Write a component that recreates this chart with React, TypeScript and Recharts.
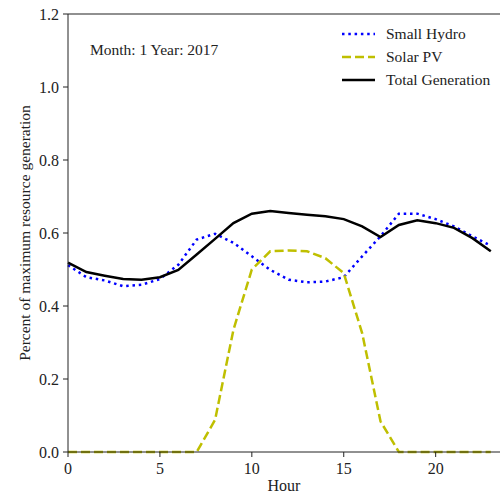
import {Label, Line, LineChart, ReferenceLine, XAxis, YAxis} from 'recharts';

const hours = [
  0, 1, 2, 3, 4, 5, 6, 7, 8, 9, 10, 11, 12, 13, 14, 15, 16, 17, 18, 19, 20, 21, 22, 23,
];
const smallHydro = [
  0.512, 0.479, 0.47, 0.454, 0.458, 0.474, 0.513, 0.582, 0.598, 0.573, 0.536, 0.499,
  0.472, 0.465, 0.467, 0.479, 0.536, 0.591, 0.653, 0.653, 0.638, 0.618, 0.591, 0.565,
];
const solarPV = [
  0, 0, 0, 0, 0, 0, 0, 0, 0.088, 0.335, 0.5, 0.55, 0.552, 0.55, 0.531, 0.49, 0.326,
  0.084, 0, 0, 0, 0, 0, 0,
];
const totalGeneration = [
  0.519, 0.493, 0.483, 0.474, 0.472, 0.479, 0.499, 0.541, 0.584, 0.627, 0.653, 0.66,
  0.655, 0.65, 0.646, 0.638, 0.618, 0.589, 0.622, 0.635, 0.627, 0.614, 0.586, 0.55,
];
const xTicks = [0, 5, 10, 15, 20];
const yTicks = [0, 0.2, 0.4, 0.6, 0.8, 1.0, 1.2];

const chartData = hours.map((h, i) => ({
  hour: h,
  hydro: smallHydro[i],
  solar: solarPV[i],
  total: totalGeneration[i],
}));

const font = '"Liberation Serif", "Times New Roman", serif';
const textStyle = {fill: '#222', fontFamily: font, fontSize: 16};

const legendItems = [
  {name: 'Small Hydro', color: '#0000ff', dash: '2.5 3.8'},
  {name: 'Solar PV', color: '#bfbf00', dash: '9 4'},
  {name: 'Total Generation', color: '#000000', dash: undefined},
];

function XTick({x, y, payload}: any) {
  return (
    <text x={x} y={y + 15} textAnchor="middle" style={textStyle}>
      {payload.value}
    </text>
  );
}

function YTick({x, y, payload}: any) {
  return (
    <text x={x - 2} y={y} textAnchor="end" dominantBaseline="central" style={textStyle}>
      {Number(payload.value).toFixed(1)}
    </text>
  );
}

function ChartLegend() {
  return (
    <div style={{fontFamily: font, fontSize: 15.5, color: '#222'}}>
      {legendItems.map((item) => (
        <div key={item.name} style={{display: 'flex', alignItems: 'center', height: 23}}>
          <svg width={33} height={10} style={{marginRight: 11}}>
            <line
              x1={0}
              y1={5}
              x2={33}
              y2={5}
              stroke={item.color}
              strokeWidth={2.5}
              strokeDasharray={item.dash}
            />
          </svg>
          <span>{item.name}</span>
        </div>
      ))}
    </div>
  );
}

export default function App() {
  return (
    <div
      style={{
        position: 'absolute',
        left: 0,
        top: 0,
        width: 500,
        height: 496,
        background: '#fff',
        fontFamily: font,
      }}
    >
      <LineChart
        width={500}
        height={496}
        data={chartData}
        margin={{top: 14, right: 0, bottom: 0, left: 28}}
      >
        <XAxis
          dataKey="hour"
          type="number"
          domain={[0, 23.5]}
          ticks={xTicks}
          tickSize={5}
          height={44}
          stroke="#222"
          tick={<XTick />}
        >
          <Label value="Hour" position="insideBottom" offset={5} style={textStyle} />
        </XAxis>
        <YAxis
          type="number"
          domain={[0, 1.2]}
          ticks={yTicks}
          tickSize={5}
          width={40}
          stroke="#222"
          tick={<YTick />}
        >
          <Label
            content={({viewBox}: any) => {
              const cy = viewBox.y + viewBox.height / 2;
              return (
                <text
                  x={24}
                  y={cy}
                  transform={`rotate(-90 24 ${cy})`}
                  textAnchor="middle"
                  dominantBaseline="central"
                  style={{...textStyle, fontSize: 15.5}}
                >
                  Percent of maximum resource generation
                </text>
              );
            }}
          />
        </YAxis>
        <ReferenceLine y={1.2} stroke="#222" strokeWidth={1.2} />
        <Line
          dataKey="hydro"
          stroke="#0000ff"
          strokeWidth={2.5}
          strokeDasharray="2.5 3.8"
          dot={false}
          isAnimationActive={false}
        />
        <Line
          dataKey="solar"
          stroke="#bfbf00"
          strokeWidth={2.5}
          strokeDasharray="9 4"
          dot={false}
          isAnimationActive={false}
        />
        <Line
          dataKey="total"
          stroke="#000000"
          strokeWidth={2.5}
          dot={false}
          isAnimationActive={false}
        />
      </LineChart>
      <div style={{position: 'absolute', left: 342, top: 22}}>
        <ChartLegend />
      </div>
      <div
        style={{
          position: 'absolute',
          left: 90,
          top: 41,
          fontSize: 15.5,
          color: '#222',
          whiteSpace: 'nowrap',
        }}
      >
        Month: 1 Year: 2017
      </div>
    </div>
  );
}
